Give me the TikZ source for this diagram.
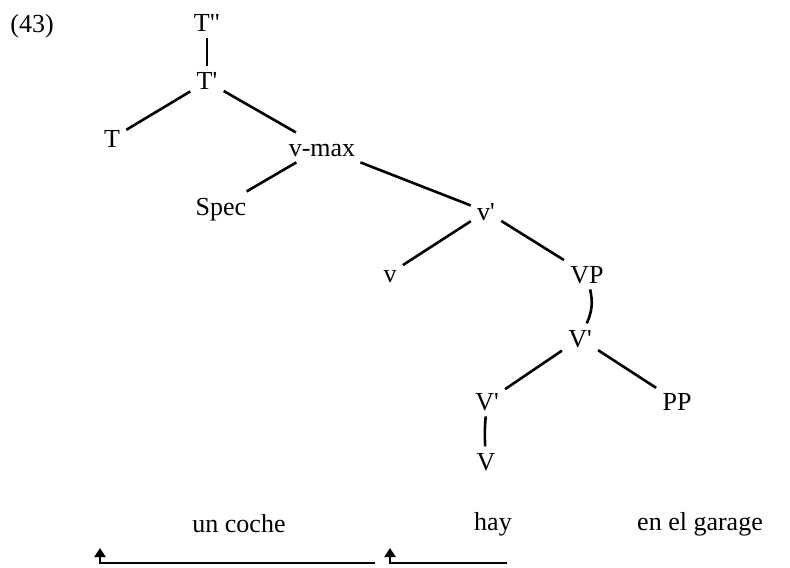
\documentclass[tikz,border=0pt]{standalone}
\usepackage{fontspec}
\newfontfamily\treefont{Liberation Serif}
\usetikzlibrary{arrows.meta}

\begin{document}
\begin{tikzpicture}[x=0.5pt, y=-0.5pt,
		cat/.style={font={\fontsize{13pt}{15pt}\treefont}, inner sep=3pt, text height=8.6pt, text depth=0pt, anchor=base},
		branch/.style={line width=1.3pt},
		movearrow/.style={line width=1.1pt, -{Triangle[width=5.5pt,length=4.5pt]}}]
		% Fix the size of the picture
		\useasboundingbox (0,0) rectangle (790,567);
		
		% Example number
		\node[cat] (exnum) at (32,33) {(43)};
		
		% Categories of the tree
		\node[cat] (Tbb) at (207,32) {T"};
		\node[cat] (Tb) at (207,90) {T'};
		\node[cat] (T) at (112,147) {T};
		\node[cat] (vmax) at (322,156) {v-max};
		\node[cat] (spec) at (221,215) {Spec};
		\node[cat] (vb) at (486,220) {v'};
		\node[cat] (v) at (390,282) {v};
		\node[cat] (VP) at (587,283) {VP};
		\node[cat] (Vbup) at (580,347) {V'};
		\node[cat] (Vblow) at (487,410) {V'};
		\node[cat] (PP) at (677,410) {PP};
		\node[cat] (V) at (486,470) {V};
		
		% Branches
		\draw[branch] (Tbb) -- (Tb);
		\draw[branch] (Tb) -- (T);
		\draw[branch] (Tb) -- (vmax);
		\draw[branch] (vmax) -- (spec);
		\draw[branch] (vmax) -- (vb);
		\draw[branch] (vb) -- (v);
		\draw[branch] (vb) -- (VP);
		\draw[branch] (VP) to[bend left=18] (Vbup);
		\draw[branch] (Vbup) -- (Vblow);
		\draw[branch] (Vbup) -- (PP);
		\draw[branch] (Vblow) to[bend right=4] (V);
		
		% Words
		\node[cat] (coche) at (239,532) {un coche};
		\node[cat] (hay) at (493,530) {hay};
		\node[cat] (garage) at (700,530) {en el garage};
		
		% Movement arrows below the words
		\coordinate (cocheFrom) at (375,563);
		\coordinate (cocheTo) at (100,548);
		\draw[movearrow] (cocheFrom) -| (cocheTo);
		\coordinate (hayFrom) at (507,563);
		\coordinate (hayTo) at (390,548);
		\draw[movearrow] (hayFrom) -| (hayTo);
	\end{tikzpicture}
\end{document}
